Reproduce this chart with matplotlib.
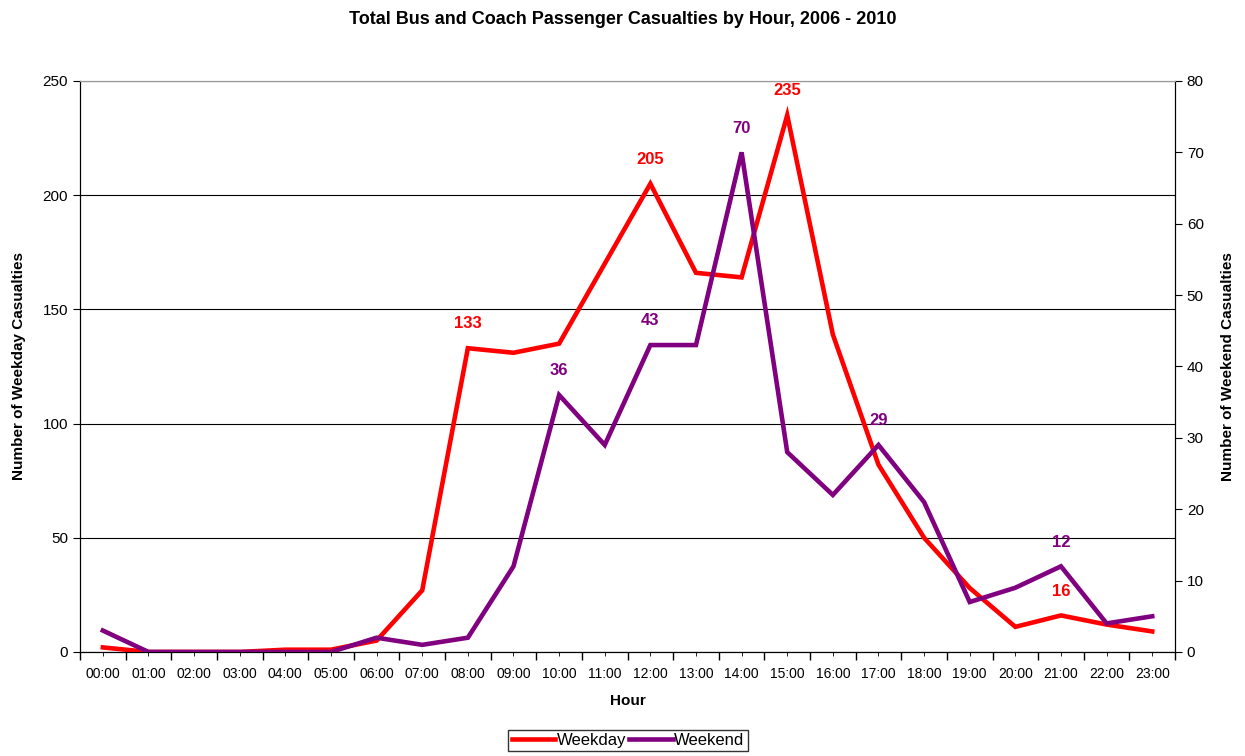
import numpy as np
import matplotlib
matplotlib.use("Agg")
import matplotlib.pyplot as plt
from matplotlib.ticker import MultipleLocator, FixedLocator, FixedFormatter

plt.rcParams['font.family'] = ['Liberation Sans', 'DejaVu Sans']

hours = ["%02d:00" % h for h in range(24)]
weekday = [2, 0, 0, 0, 1, 1, 5, 27, 133, 131, 135, 170, 205, 166, 164, 235,
           139, 82, 50, 28, 11, 16, 12, 9]
weekend = [3, 0, 0, 0, 0, 0, 2, 1, 2, 12, 36, 29, 43, 43, 70, 28,
           22, 29, 21, 7, 9, 12, 4, 5]
weekday_labelled = [8, 12, 15, 21]
weekend_labelled = [10, 12, 14, 17, 21]

red = "#ff0000"
purple = "#800080"

fig = plt.figure(figsize=(12.45, 7.56), dpi=100)
ax = fig.add_axes([0.0643, 0.1376, 0.8795, 0.7553])
ax2 = ax.twinx()

x = np.arange(len(hours))
l1, = ax.plot(x, weekday, color=red, lw=3.3, label="Weekday", zorder=3,
              solid_joinstyle='miter')
l2, = ax2.plot(x, weekend, color=purple, lw=3.3, label="Weekend", zorder=3,
               solid_joinstyle='miter')

for i in weekday_labelled:
    ax.annotate(str(weekday[i]), (x[i], weekday[i]), xytext=(0, 17.5),
                textcoords="offset points", ha="center", va="center",
                color=red, fontsize=12, fontweight="bold")
for i in weekend_labelled:
    ax2.annotate(str(weekend[i]), (x[i], weekend[i]), xytext=(0, 17.5),
                 textcoords="offset points", ha="center", va="center",
                 color=purple, fontsize=12, fontweight="bold")

ax.set_xlim(-0.5, 23.5)
ax.set_ylim(0, 250)
ax2.set_ylim(0, 80)
ax.yaxis.set_major_locator(MultipleLocator(50))
ax2.yaxis.set_major_locator(MultipleLocator(10))

# category boundaries carry the long ticks, labels sit at the centres
ax.xaxis.set_major_locator(FixedLocator(np.arange(-0.5, 24, 1)))
ax.xaxis.set_major_formatter(FixedFormatter([""] * 25))
ax.xaxis.set_minor_locator(FixedLocator(x))
ax.xaxis.set_minor_formatter(FixedFormatter(hours))
ax.tick_params(axis="x", which="major", length=6, direction="out", width=1)
ax.tick_params(axis="x", which="minor", length=3, direction="out",
               labelsize=10, pad=8)
ax.tick_params(axis="y", length=5, direction="out", labelsize=11)
ax2.tick_params(axis="y", length=5, direction="out", labelsize=11)

ax.grid(axis="y", color="black", lw=0.8)
ax.set_axisbelow(True)
for a in (ax, ax2):
    a.spines["top"].set_color("#999999")
    a.spines["left"].set_color("black")
    a.spines["right"].set_color("black")
    a.spines["bottom"].set_color("black")

ax.set_xlabel("Hour", fontsize=11, fontweight="bold", labelpad=9)
ax.set_ylabel("Number of Weekday Casualties", fontsize=11, fontweight="bold",
              labelpad=12)
ax2.set_ylabel("Number of Weekend Casualties", fontsize=11, fontweight="bold",
               labelpad=12)

fig.suptitle("Total Bus and Coach Passenger Casualties by Hour, 2006 - 2010",
             fontsize=13, fontweight="bold", y=0.985)

fig.legend([l1, l2], ["Weekday", "Weekend"], loc="center",
           bbox_to_anchor=(0.5045, 0.0205), ncol=2, frameon=True,
           fancybox=False, edgecolor="black", fontsize=12,
           handlelength=2.6, handletextpad=0.1, columnspacing=0.2,
           borderpad=0.2)

fig.savefig("out.png", dpi=100)
